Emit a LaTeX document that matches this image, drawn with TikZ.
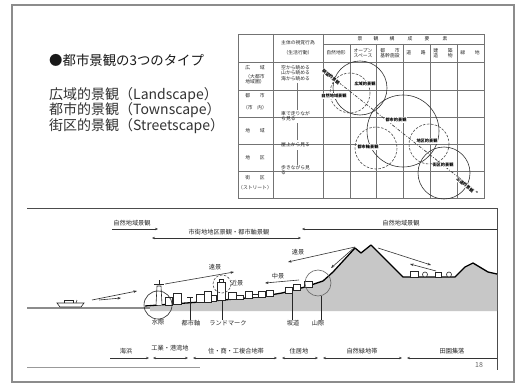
\documentclass[tikz,border=0pt]{standalone}
\usepackage{fontspec}
\setmainfont{Noto Sans CJK JP}
\usetikzlibrary{arrows.meta}

\begin{document}
\begin{tikzpicture}[x=1pt,y=-1pt,
  frame/.style={draw=black!45, line width=1.4pt},
  grid/.style={draw=black!55, line width=0.5pt},
  ink/.style={draw=black!85, line width=0.6pt},
  ground/.style={draw=black, line width=1.3pt, line join=round},
  tbl/.style={font=\fontsize{4.8}{5.4}\selectfont, text=black!85, inner sep=0pt, align=center},
  tblL/.style={tbl, align=left, anchor=west},
  tag/.style={font=\fontsize{4.2}{4.6}\selectfont\bfseries, text=black, fill=white, inner sep=0.5pt},
  lbl/.style={font=\fontsize{6.2}{7}\selectfont, text=black!85, inner sep=0pt},
  big/.style={anchor=west, font=\fontsize{14}{15}\selectfont, text=black!80, inner sep=0pt},
  view/.style={draw=black!80, line width=0.6pt, -{Stealth[length=3.5pt,width=2.6pt]}},
  zone/.style={draw=black!80, line width=0.5pt, {Stealth[length=3pt,width=2.4pt]}-{Stealth[length=3pt,width=2.4pt]}},
  zoneR/.style={draw=black!80, line width=0.5pt, -{Stealth[length=3pt,width=2.4pt]}},
  zoneL/.style={draw=black!80, line width=0.5pt, {Stealth[length=3pt,width=2.4pt]}-},
  ring/.style={draw=black!80, line width=0.6pt},
  dring/.style={draw=black!70, line width=0.6pt, dashed, dash pattern=on 2.5pt off 1.5pt}
]
\useasboundingbox (0,0) rectangle (521,385);
\fill[white] (0,0) rectangle (521,385);

% slide frame
\draw[frame] (12,5) rectangle (514,382);

% ---------- heading and the three types ----------
\node[anchor=west, font=\fontsize{13.4}{15}\selectfont, text=black!90, inner sep=0pt] (title) at (49,60) {●都市景観の3つのタイプ};
\node[big] (t1) at (49,95) {広域的景観（Landscape）};
\node[big] (t2) at (49,110) {都市的景観（Townscape）};
\node[big] (t3) at (49,126) {街区的景観（Streetscape）};

% ---------- table ----------
\draw[grid] (238,34) rectangle (484,198);
\draw[grid] (273,34) -- (273,198);
\draw[grid] (323,34) -- (323,198);
\draw[grid] (323,44) -- (484,44);
\foreach \x in {350,376,403,430,457} \draw[grid] (\x,44) -- (\x,198);
\foreach \y in {62,90,117,144,171} \draw[grid] (238,\y) -- (484,\y);

\node[tbl] (hA) at (298,43) {主体の視覚行為};
\node[tbl] (hB) at (298,53) {（生活行動）};
\foreach \c/\x [count=\i] in {景/360,観/376,構/392,成/410,要/427,素/445}
  \node[tbl] (hc\i) at (\x,39) {\c};
\node[tbl] (s1) at (336,53) {自然地形};
\node[tbl] (s2) at (363,53) {オープン\\スペース};
\node[tbl] (s3) at (390,53) {都　　市\\基幹施設};
\node[tbl] (s4) at (416,53) {道　　路};
\node[tbl] (s5) at (443,53) {建　　築\\造　　物};
\node[tbl] (s6) at (470,53) {緑　　地};

\node[tbl] (r1) at (255,68) {広　　域};
\node[tbl] (r1b) at (255,79) {（大都市\\地域圏）};
\node[tbl] (r2) at (255,96) {都　　市};
\node[tbl] (r2b) at (255,108) {（市　内）};
\node[tbl] (r3) at (255,131) {地　　域};
\node[tbl] (r4) at (255,158) {地　　区};
\node[tbl] (r5) at (255,178) {街　　区};
\node[tbl] (r5b) at (255,188) {（ストリート）};

\node[tblL] (a1) at (281,73) {空から眺める\\山から眺める\\海から眺める};
\node[tblL] (a2) at (281,116) {車で走りなが\\ら見る};
\node[tblL] (a3) at (281,145) {屋上から見る};
\node[tblL] (a4) at (281,170) {歩きながら見\\る};
\draw[grid] (297,83) -- (297,110);
\draw[grid] (297,123) -- (297,140);
\draw[grid] (297,150) -- (297,165);

% scope circles
\draw[dring] (350,93) circle (20);
\draw[ring] (360,88) circle (27);
\draw[ring] (403,131) circle (36);
\draw[dring] (376,148) circle (21);
\draw[dring] (429,144) circle (20);
\draw[ring] (444,173) circle (26);
\draw[black!75, line width=0.7pt, dash pattern=on 3pt off 1.5pt on 0.8pt off 1.5pt] (323,70) -- (477,192);
\fill[black!80] (477,192) circle (0.9);

\node[tag] (c1) at (365,84) {広域的景観};
\node[tag] (c2) at (334,96) {自然地域景観};
\node[tag] (c3) at (396,120) {都市的景観};
\node[tag] (c4) at (368,147) {都市軸景観};
\node[tag] (c5) at (427,141) {地区的景観};
\node[tag] (c6) at (443,165) {街区的景観};
\node[tag, rotate=-38.4] (d1) at (331,77) {眺望的景観};
\node[tag, rotate=-38.4] (d2) at (465,185) {沿道的景観};

% ---------- section ----------
\draw[black!70, line width=0.8pt] (27,208) -- (497,208);
\draw[black!70, line width=0.8pt] (497,208) -- (497,370);
\draw[black!40, line width=0.8pt] (27,367) -- (200,367);

% sea
\draw[black!45, line width=2.6pt] (27,308) -- (152,308);

% land body
\fill[black!22] (150,306) -- (200,302) -- (258,297) -- (282,293) -- (305,287) -- (323,281)
  -- (333,272) -- (355,248) -- (361,253) -- (371,245) -- (403,277) -- (455,277)
  -- (465,267) -- (473,263) -- (488,272) -- (497,274) -- (497,311) -- (150,311) -- cycle;
\draw[ground] (145,306) -- (200,302) -- (258,297) -- (282,293) -- (305,287) -- (323,281)
  -- (333,272) -- (355,248) -- (361,253) -- (371,245) -- (403,277) -- (455,277)
  -- (465,267) -- (473,263) -- (488,272) -- (497,274);

% ship
\draw[ink, fill=white] (57,303) -- (84,303) -- (81,307) -- (60,307) -- cycle;
\draw[ink] (64,303) -- (64,300) -- (73,300) -- (73,303);
\draw[ink] (76,303) -- (77,300);

% waterfront tower and buildings
\draw[ink, fill=white] (156,305) -- (157,286) -- (161,286) -- (162,305);
\draw[ink] (154,284) -- (164,284);
\draw[ink] (159,284) -- (159,280);
\foreach \a/\b/\c/\d in {165/297/172/305, 173/293/181/304, 196/294/204/302, 204/291/211/302,
  211/295/216/301, 228/292/236/299, 236/295/243/299, 245/291/252/298, 252/294/258/297,
  258/291/265/297, 266/290/273/296, 285/287/292/293, 293/284/300/290, 304/281/312/287}
  \draw[ink, fill=white] (\a,\b) rectangle (\c,\d);
\draw[ink] (190,303) -- (190,297);
\draw[ink] (187,297) -- (193,297);
\draw[ink, fill=white] (217,282) rectangle (225,300);
\draw[ink, fill=white] (219,279) rectangle (223,282);

% farmland houses
\draw[ink, fill=white] (410,271) rectangle (418,277);
\draw[ink, fill=white] (425,274.5) circle (2.5);
\draw[ink, fill=white] (435,272) rectangle (441,277);
\draw[ink, fill=white] (449,274.5) circle (2.5);

% focus circles
\draw[ink] (158,305) circle (14);
\draw[dring] (222,284) circle (9);
\draw[ink, black!60] (318,283) circle (13);

% callouts
\node[lbl] (w1) at (158,322) {水際};
\node[lbl] (w2) at (191,323) {都市軸};
\node[lbl] (w3) at (228,323) {ランドマーク};
\node[lbl] (w4) at (293,323) {坂道};
\node[lbl] (w5) at (318,323) {山際};
\coordinate (p2) at (190,303);
\coordinate (p3) at (222,300);
\coordinate (p4) at (292,291);
\coordinate (p5) at (321,296);
\draw[ink] (w2.north -| p2) -- (p2);
\draw[ink] (w3.north -| p3) -- (p3);
\draw[ink] (w4.north -| p4) -- (p4);
\draw[ink] (w5.north -| p5) -- (p5);

% views
\coordinate (ship) at (92,300);
\coordinate (sea1) at (137,291);
\coordinate (sea0) at (99,300);
\coordinate (sea2) at (121,298);
\draw[view] (ship) -- (sea1);
\draw[view] (sea0) -- (sea2);
\node[lbl] (v1) at (215,267) {遠景};
\coordinate (towerTop) at (165,284);
\coordinate (far1) at (234,272);
\draw[view] (towerTop) -- (far1);
\node[lbl] (v2) at (237,283) {近景};
\node[lbl] (v3) at (298,252) {遠景};
\coordinate (peakL) at (355,247);
\coordinate (far2) at (288,262);
\coordinate (far3) at (331,268);
\draw[view] (peakL) -- (far2);
\draw[view] (peakL) -- (far3);
\node[lbl] (v4) at (278,276) {中景};
\coordinate (mid0) at (299,280);
\coordinate (mid1) at (265,283);
\draw[view] (mid0) -- (mid1);
\coordinate (peakR) at (378,248);
\coordinate (vale) at (431,265);
\coordinate (farm0) at (436,271);
\coordinate (farm1) at (410,264);
\draw[view] (peakR) -- (vale);
\draw[view] (farm0) -- (farm1);

% landscape bands
\node[lbl] (b1) at (132,223) {自然地域景観};
\coordinate (b1a) at (112,229); \coordinate (b1b) at (158,229);
\draw[zoneR] (b1a) -- (b1b);
\node[lbl] (b2) at (229,232) {市街地地区景観・都市軸景観};
\coordinate (b2a) at (152,238); \coordinate (b2b) at (301,238);
\draw[zone] (b2a) -- (b2b);
\node[lbl] (b3) at (401,223) {自然地域景観};
\coordinate (b3a) at (497,229); \coordinate (b3b) at (302,229);
\draw[zoneR] (b3a) -- (b3b);

% land-use zones
\node[lbl] (z1) at (126,351) {海浜};
\node[lbl] (z2) at (170,348) {工業・港湾地};
\node[lbl] (z3) at (236,351) {住・商・工複合地帯};
\node[lbl] (z4) at (299,351) {住居地};
\node[lbl] (z5) at (362,351) {自然緑地帯};
\node[lbl] (z6) at (452,351) {田園集落};
\coordinate (e0) at (110,358); \coordinate (e1) at (149,358);
\coordinate (e2) at (153,358); \coordinate (e3) at (188,358);
\coordinate (e4) at (193,358); \coordinate (e5) at (277,358);
\coordinate (e6) at (282,358); \coordinate (e7) at (318,358);
\coordinate (e8) at (323,358); \coordinate (e9) at (402,358);
\coordinate (e10) at (407,358); \coordinate (e11) at (497,358);
\draw[zoneR] (e0) -- (e1);
\draw[zone] (e2) -- (e3);
\draw[zone] (e4) -- (e5);
\draw[zone] (e6) -- (e7);
\draw[zone] (e8) -- (e9);
\draw[zoneL] (e10) -- (e11);

\node[font=\fontsize{7}{8}\selectfont, text=black!60, inner sep=0pt] (pg) at (479,365) {18};
\end{tikzpicture}
\end{document}
